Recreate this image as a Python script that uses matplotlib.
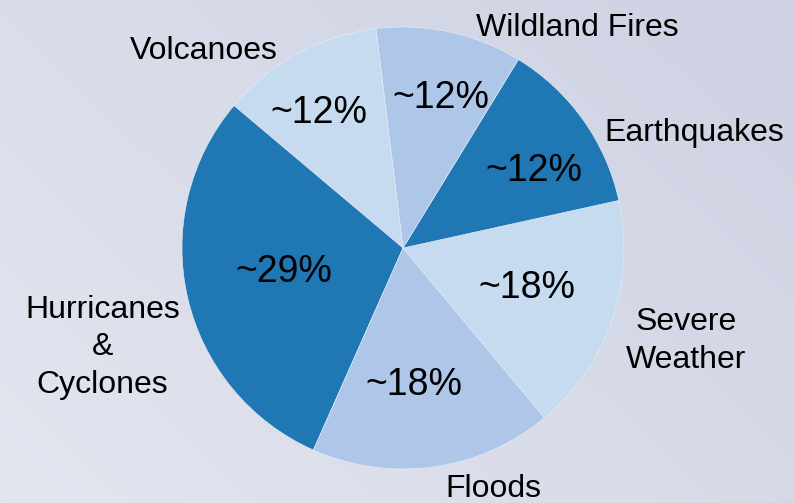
import numpy as np
import matplotlib.pyplot as plt
from matplotlib.colors import LinearSegmentedColormap

# wedge sizes (counterclockwise, starting at Severe Weather)
categories = ['Severe\nWeather', 'Earthquakes', 'Wildland Fires', 'Volcanoes',
              'Hurricanes\n&\nCyclones', 'Floods']
shares = [17.4, 12.8, 10.7, 11.9, 29.5, 17.7]
pct_labels = ['~18%', '~12%', '~12%', '~12%', '~29%', '~18%']

dark = '#1f77b4'
light1 = '#c6dbef'
light2 = '#aec7e8'
colors = [light1, dark, light2, light1, dark, light2]

# label positions (in pie radius units)
label_pos = [(1.28, -0.42), (1.32, 0.52), (0.79, 0.995), (-0.90, 0.89),
             (-1.36, -0.45), (0.41, -1.09)]
pct_pos = [(0.56, -0.18), (0.59, 0.35), (0.17, 0.68), (-0.38, 0.61),
           (-0.54, -0.11), (0.05, -0.62)]

plt.rcParams['font.family'] = ['Liberation Sans', 'DejaVu Sans']

fig = plt.figure(figsize=(7.94, 5.03), dpi=100)

# background gradient: lighter bottom-left, darker top-right
bg = fig.add_axes([0, 0, 1, 1], zorder=0)
yy, xx = np.mgrid[0:1:200j, 0:1:300j]
grad = (xx * 0.6 + (1 - yy) * 0.4)
cmap = LinearSegmentedColormap.from_list('bg', ['#e3e6ef', '#cdd1e2'])
bg.imshow(grad, cmap=cmap, aspect='auto', extent=[0, 1, 0, 1], origin='upper')
bg.axis('off')

# pie centered at (403, 248), radius ~221 px
cx, cy, r = 403 / 794, 1 - 248 / 503, 221
ax = fig.add_axes([cx - r / 794, cy - r / 503, 2 * r / 794, 2 * r / 503], zorder=1)
ax.pie(shares, colors=colors, startangle=-50.2, counterclock=True,
       wedgeprops=dict(edgecolor='#e8eef8', linewidth=0.4))
ax.set_xlim(-1, 1)
ax.set_ylim(-1, 1)
ax.set_aspect('auto')

for (x, y), lab in zip(label_pos, categories):
    ax.text(x, y, lab, ha='center', va='center', fontsize=23, color='black',
            clip_on=False, linespacing=1.32)
for (x, y), lab in zip(pct_pos, pct_labels):
    ax.text(x, y, lab, ha='center', va='center', fontsize=27, color='black')

fig.savefig('out.png', dpi=100)
